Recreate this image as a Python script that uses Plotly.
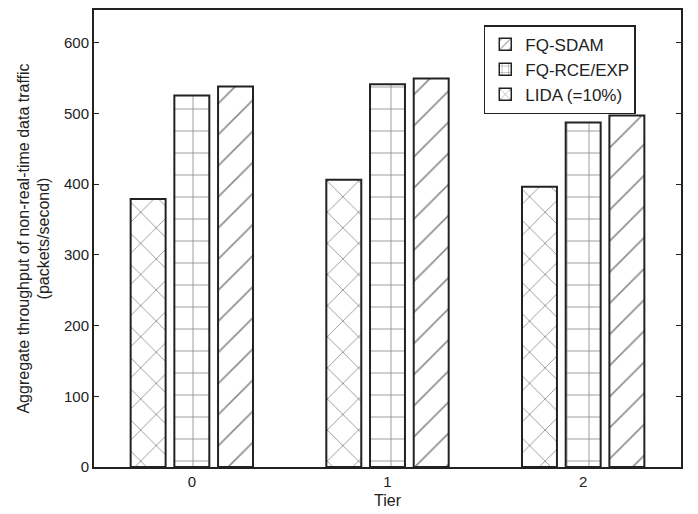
import plotly.graph_objects as go

tiers = ["0", "1", "2"]
lida = [379, 406, 396]
fq_rce = [525, 541, 487]
fq_sdam = [538, 549, 497]
y_ticks = [0, 100, 200, 300, 400, 500, 600]

series = [
    ("LIDA (=10%)", lida, "x"),
    ("FQ-RCE/EXP", fq_rce, "+"),
    ("FQ-SDAM", fq_sdam, "/"),
]

fig = go.Figure()
for name, vals, shape in series:
    fig.add_trace(go.Bar(
        x=tiers, y=vals, name=name, showlegend=False,
        marker=dict(
            color="white",
            line=dict(color="#222222", width=2),
            pattern=dict(shape=shape, size=22, solidity=0.075,
                         fgcolor="#1a1a1a", bgcolor="white", fillmode="overlay"),
        ),
    ))

# legend swatches: same series on a hidden axis whose range keeps the bars out of view
for name, vals, shape in series:
    fig.add_trace(go.Bar(
        x=tiers, y=vals, name=name, showlegend=True,
        xaxis="x2", yaxis="y2", hoverinfo="skip",
        marker=dict(
            color="white",
            line=dict(color="#222222", width=1.5),
            pattern=dict(shape=shape, size=8, solidity=0.15,
                         fgcolor="#222222", bgcolor="white", fillmode="overlay"),
        ),
    ))

fig.update_layout(
    width=690, height=506,
    margin=dict(l=86, r=17, t=0, b=47),
    paper_bgcolor="white", plot_bgcolor="white",
    barmode="group", bargap=0.33, bargroupgap=0.2,
    font=dict(family="Liberation Sans, Arial, sans-serif", size=15, color="#222222"),
    showlegend=True,
    legend=dict(
        x=0.664, y=0.967, xanchor="left", yanchor="top",
        traceorder="reversed",
        bordercolor="#222222", borderwidth=1.5, bgcolor="white",
        font=dict(size=17),
    ),
    xaxis=dict(
        type="category", range=[-0.5, 2.5],
        showline=True, linecolor="#222222", linewidth=2, mirror=True,
        ticks="", showgrid=False, zeroline=False,
        tickfont=dict(size=15),
        title=dict(text="Tier", standoff=6, font=dict(size=16)),
    ),
    yaxis=dict(
        range=[0, 646], tickvals=y_ticks,
        showline=True, linecolor="#222222", linewidth=2, mirror="allticks",
        ticks="inside", ticklen=5, tickcolor="#222222",
        showgrid=False, zeroline=False,
        tickfont=dict(size=15),
        title=dict(text="Aggregate throughput of non-real-time data traffic<br>(packets/second)",
                   standoff=10, font=dict(size=16)),
    ),
    xaxis2=dict(visible=False, overlaying="x", anchor="y2", type="category"),
    yaxis2=dict(visible=False, overlaying="y", anchor="x2", range=[5000, 6000]),
)

fig.write_html("out.html")
